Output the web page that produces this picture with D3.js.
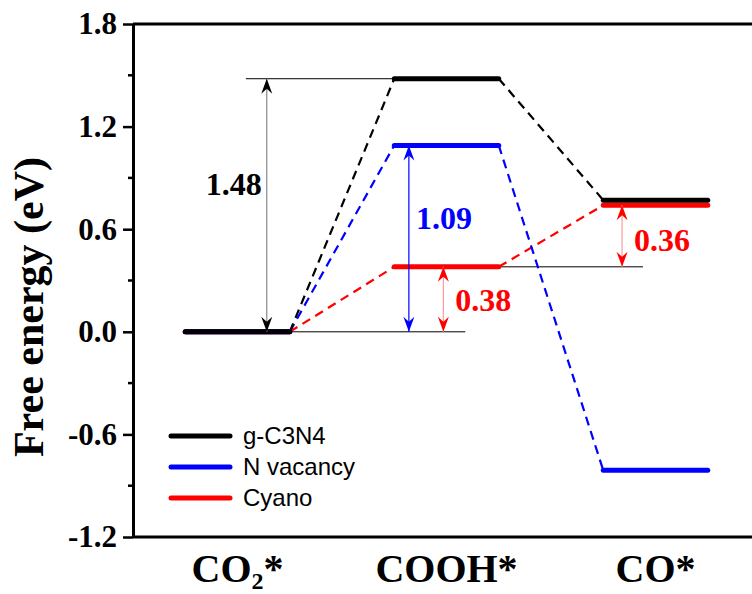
<!DOCTYPE html>
<html>
<head>
<meta charset="utf-8">
<script src="https://cdn.jsdelivr.net/npm/d3@7"></script>
<style>
  html, body { margin: 0; padding: 0; background: #fff; }
  svg { display: block; }
</style>
</head>
<body>
<svg id="chart" width="752" height="594"></svg>
<script>
// reaction steps and free energies (eV)
const steps = ["CO2*", "COOH*", "CO*"];
const gC3N4 = [0, 1.48, 0.77];
const nVacancy = [0, 1.09, -0.81];
const cyano = [0, 0.38, 0.74];
const seriesNames = ["g-C3N4", "N vacancy", "Cyano"];
const seriesColors = ["#000000", "#0000ff", "#ff0000"];
const yTicks = [-1.2, -0.6, 0.0, 0.6, 1.2, 1.8];

// energy gap annotations: step index offset, from, to, label
const gapAt = [0.14, 0.82, 0.985, 1.84];
const gapFrom = [0, 0, 0, 0.38];
const gapTo = [1.48, 1.09, 0.38, 0.74];
const gapLabels = ["1.48", "1.09", "0.38", "0.36"];
const gapColors = ["#000000", "#0000ff", "#ff0000", "#ff0000"];
const gapShaft = ["#888888", "#0000ff", "#ff9a9a", "#ff9a9a"];

const W = 752, H = 594;
const svg = d3.select("#chart");
const x = d3.scaleLinear().domain([-0.5, 2.5]).range([133, 760]);
const y = d3.scaleLinear().domain([-1.2, 1.8]).range([537, 24]);
const halfW = 0.25;

const serif = "'Liberation Serif', 'Times New Roman', serif";
const sans = "'Liberation Sans', Arial, sans-serif";

// arrow markers
const defs = svg.append("defs");
gapColors.forEach((c, i) => {
  defs.append("marker")
    .attr("id", "arr" + i)
    .attr("viewBox", "-16 -8 18 16")
    .attr("refX", 0).attr("refY", 0)
    .attr("markerWidth", 18).attr("markerHeight", 16)
    .attr("markerUnits", "userSpaceOnUse")
    .attr("orient", "auto-start-reverse")
    .append("path")
    .attr("d", "M0,0 L-15,-5.5 L-10,0 L-15,5.5 Z")
    .attr("fill", c);
});

// helper lines for the gaps
const refLines = [
  { v: 1.48, a: 0.04, b: 0.75 },
  { v: 0, a: 0.25, b: 1.09 },
  { v: 0.38, a: 1.22, b: 1.94 },
];
svg.append("g").selectAll("line")
  .data(refLines)
  .join("line")
  .attr("x1", (d) => x(d.a)).attr("x2", (d) => x(d.b))
  .attr("y1", (d) => y(d.v)).attr("y2", (d) => y(d.v))
  .attr("stroke", "#000").attr("stroke-width", 1);

const series = [cyano, nVacancy, gC3N4];
const sColors = [seriesColors[2], seriesColors[1], seriesColors[0]];

// dashed connectors
series.forEach((vals, si) => {
  const segs = d3.range(vals.length - 1).map((i) => [i, vals[i], vals[i + 1]]);
  svg.append("g").selectAll("line")
    .data(segs)
    .join("line")
    .attr("x1", (d) => x(d[0] + halfW)).attr("y1", (d) => y(d[1]))
    .attr("x2", (d) => x(d[0] + 1 - halfW)).attr("y2", (d) => y(d[2]))
    .attr("stroke", sColors[si])
    .attr("stroke-width", 2.2)
    .attr("stroke-dasharray", "9,6");
});

// energy levels
series.forEach((vals, si) => {
  svg.append("g").selectAll("line")
    .data(vals)
    .join("line")
    .attr("x1", (d, i) => x(i - halfW)).attr("x2", (d, i) => x(i + halfW))
    .attr("y1", (d) => y(d)).attr("y2", (d) => y(d))
    .attr("stroke", sColors[si])
    .attr("stroke-width", 5)
    .attr("stroke-linecap", "round");
});

// gap arrows
const gaps = gapLabels.map((l, i) => ({
  at: gapAt[i], from: gapFrom[i], to: gapTo[i], label: l, i,
}));
svg.append("g").selectAll("line")
  .data(gaps)
  .join("line")
  .attr("x1", (d) => x(d.at)).attr("x2", (d) => x(d.at))
  .attr("y1", (d) => y(d.from)).attr("y2", (d) => y(d.to))
  .attr("stroke", (d) => gapShaft[d.i])
  .attr("stroke-width", 1.2)
  .attr("marker-start", (d) => `url(#arr${d.i})`)
  .attr("marker-end", (d) => `url(#arr${d.i})`);

const labelPos = [
  { dx: -5, dy: -10, anchor: "end" },
  { dx: 7, dy: -10, anchor: "start" },
  { dx: 12, dy: 12, anchor: "start" },
  { dx: 12, dy: 15, anchor: "start" },
];
svg.append("g").selectAll("text")
  .data(gaps)
  .join("text")
  .attr("x", (d) => x(d.at) + labelPos[d.i].dx)
  .attr("y", (d) => (y(d.from) + y(d.to)) / 2 + labelPos[d.i].dy)
  .attr("text-anchor", (d) => labelPos[d.i].anchor)
  .attr("font-family", serif)
  .attr("font-weight", "bold")
  .attr("font-size", 32)
  .attr("fill", (d) => gapColors[d.i])
  .text((d) => d.label);

// frame
svg.append("line").attr("x1", 133).attr("x2", W).attr("y1", y(1.8)).attr("y2", y(1.8))
  .attr("stroke", "#000").attr("stroke-width", 3);
svg.append("line").attr("x1", 133).attr("x2", W).attr("y1", y(-1.2)).attr("y2", y(-1.2))
  .attr("stroke", "#000").attr("stroke-width", 3);

// y axis
const yAxis = svg.append("g")
  .attr("transform", "translate(133,0)")
  .call(d3.axisLeft(y).tickValues(yTicks).tickSize(10).tickSizeOuter(0).tickPadding(6)
    .tickFormat(d3.format(".1f")));
yAxis.select(".domain").attr("stroke-width", 3);
yAxis.selectAll(".tick line").attr("stroke-width", 2.5);
yAxis.selectAll(".tick text")
  .attr("font-family", serif)
  .attr("font-weight", "bold")
  .attr("font-size", 31)
  .attr("fill", "#000")
  .text((d) => d3.format(".1f")(d).replace("−", "-"));

const minor = d3.range(5).map((i) => yTicks[i] + 0.3);
svg.append("g").selectAll("line")
  .data(minor)
  .join("line")
  .attr("x1", 128).attr("x2", 133)
  .attr("y1", (d) => y(d)).attr("y2", (d) => y(d))
  .attr("stroke", "#000").attr("stroke-width", 2.5);

svg.append("text")
  .attr("transform", "translate(43,307) rotate(-90)")
  .attr("text-anchor", "middle")
  .attr("font-family", serif)
  .attr("font-weight", "bold")
  .attr("font-size", 42)
  .text("Free energy (eV)");

// x category labels
const xl = svg.append("g")
  .attr("font-family", serif)
  .attr("font-weight", "bold")
  .attr("font-size", 40)
  .attr("text-anchor", "middle");
steps.forEach((s, i) => {
  const t = xl.append("text").attr("x", x(i)).attr("y", 582);
  if (s === "CO2*") {
    t.append("tspan").text("CO");
    t.append("tspan").attr("font-size", 24).attr("dy", 7).text("2");
    t.append("tspan").attr("dy", -7).text("*");
  } else {
    t.text(s);
  }
});

// legend
const lg = svg.append("g").attr("transform", "translate(171,436)");
seriesNames.forEach((n, i) => {
  lg.append("line")
    .attr("x1", 0).attr("x2", 59)
    .attr("y1", i * 31).attr("y2", i * 31)
    .attr("stroke", seriesColors[i])
    .attr("stroke-width", 5)
    .attr("stroke-linecap", "round");
  lg.append("text")
    .attr("x", 72).attr("y", i * 31)
    .attr("dy", "0.35em")
    .attr("font-family", sans)
    .attr("font-size", 24)
    .text(n);
});
</script>
</body>
</html>
